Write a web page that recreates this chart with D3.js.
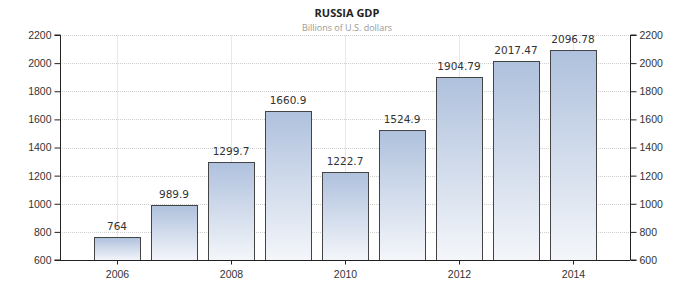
<!DOCTYPE html>
<html>
<head>
<meta charset="utf-8">
<script src="https://cdn.jsdelivr.net/npm/d3@7.9.0/dist/d3.min.js"></script>
<style>
  body { margin: 0; background: #fff; }
  svg { display: block; font-family: "DejaVu Sans", Verdana, sans-serif; }
  .axis text { font-size: 10.5px; fill: #333; }
  .axis path, .axis line { stroke: #222; }
</style>
</head>
<body>
<svg id="chart" width="694" height="295"></svg>
<script>
const years = [2006, 2007, 2008, 2009, 2010, 2011, 2012, 2013, 2014];
const gdp = [764, 989.9, 1299.7, 1660.9, 1222.7, 1524.9, 1904.79, 2017.47, 2096.78];
const gdpLabels = ['764', '989.9', '1299.7', '1660.9', '1222.7', '1524.9', '1904.79', '2017.47', '2096.78'];
const yTicks = [600, 800, 1000, 1200, 1400, 1600, 1800, 2000, 2200];
const xTicks = [2006, 2008, 2010, 2012, 2014];

const svg = d3.select('#chart');
const plotL = 60, plotR = 630, plotT = 35, plotB = 260;

const x = d3.scaleLinear().domain([2005, 2015]).range([plotL, plotR]);
const y = d3.scaleLinear().domain([600, 2200]).range([plotB, plotT]);
const barW = 46;

const defs = svg.append('defs');
const grad = defs.append('linearGradient')
    .attr('id', 'barGrad')
    .attr('x1', 0).attr('y1', 0).attr('x2', 0).attr('y2', 1);
grad.append('stop').attr('offset', '0%').attr('stop-color', '#afc1dd');
grad.append('stop').attr('offset', '100%').attr('stop-color', '#f4f6fa');

// grid
svg.append('g')
    .selectAll('line')
    .data(yTicks.slice(1))
    .join('line')
    .attr('x1', plotL).attr('x2', plotR)
    .attr('y1', d => Math.round(y(d)) + 0.5).attr('y2', d => Math.round(y(d)) + 0.5)
    .attr('stroke', '#cfcfcf')
    .attr('stroke-dasharray', '1,1');

svg.append('g')
    .selectAll('line')
    .data(xTicks)
    .join('line')
    .attr('x1', d => Math.round(x(d)) + 0.5).attr('x2', d => Math.round(x(d)) + 0.5)
    .attr('y1', plotT).attr('y2', plotB)
    .attr('stroke', '#e8e8e8');

// bars
svg.append('g')
    .selectAll('rect')
    .data(years)
    .join('rect')
    .attr('x', d => Math.round(x(d) - barW / 2) + 0.5)
    .attr('y', (d, i) => Math.round(y(gdp[i])) + 0.5)
    .attr('width', barW)
    .attr('height', (d, i) => Math.round(plotB - y(gdp[i])))
    .attr('fill', 'url(#barGrad)')
    .attr('stroke', '#444')
    .attr('stroke-width', 1);

// value labels
svg.append('g')
    .selectAll('text')
    .data(years)
    .join('text')
    .attr('x', d => x(d))
    .attr('y', (d, i) => y(gdp[i]) - 7)
    .attr('text-anchor', 'middle')
    .attr('font-size', '10.5px')
    .attr('fill', '#333')
    .text((d, i) => gdpLabels[i]);

// axes
svg.append('g')
    .attr('class', 'axis')
    .attr('transform', `translate(${plotL + 0.5},0)`)
    .call(d3.axisLeft(y).tickValues(yTicks).tickSize(6).tickPadding(3).tickFormat(d3.format('d')))
    .call(g => g.select('.domain').attr('d', `M-6,${plotT}H0V${plotB}H-6`));

svg.append('g')
    .attr('class', 'axis')
    .attr('transform', `translate(${plotR + 0.5},0)`)
    .call(d3.axisRight(y).tickValues(yTicks).tickSize(6).tickPadding(3).tickFormat(d3.format('d')))
    .call(g => g.select('.domain').attr('d', `M6,${plotT}H0V${plotB}H6`));

svg.append('g')
    .attr('class', 'axis')
    .attr('transform', `translate(0,${plotB + 0.5})`)
    .call(d3.axisBottom(x).tickValues(xTicks).tickSize(4).tickPadding(6).tickFormat(d3.format('d')))
    .call(g => g.select('.domain').attr('d', `M${plotL},0H${plotR}`));

// title
svg.append('text')
    .attr('x', 347).attr('y', 17)
    .attr('text-anchor', 'middle')
    .attr('font-family', '"Open Sans", sans-serif')
    .attr('font-size', '11px')
    .attr('font-weight', 'bold')
    .attr('fill', '#222')
    .text('RUSSIA GDP');

svg.append('text')
    .attr('x', 347).attr('y', 31)
    .attr('text-anchor', 'middle')
    .attr('font-family', '"Open Sans", sans-serif')
    .attr('font-size', '9px')
    .attr('fill', '#999')
    .text('Billions of U.S. dollars');
</script>
</body>
</html>
